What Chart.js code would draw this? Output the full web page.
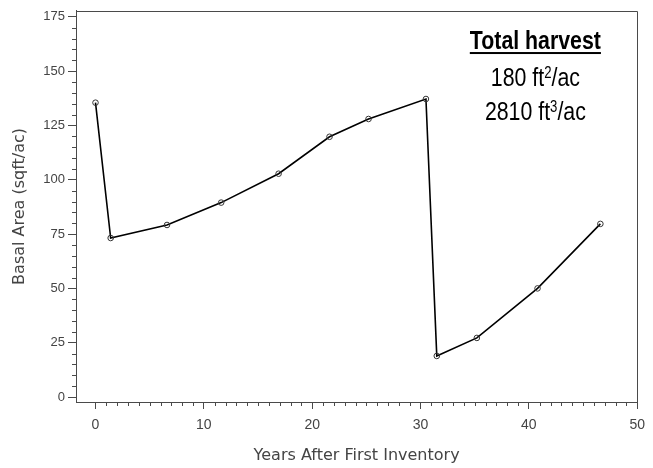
<!DOCTYPE html>
<html>
<head>
<meta charset="utf-8">
<script src="https://cdn.jsdelivr.net/npm/chart.js@4/dist/chart.umd.min.js"></script>
<style>
  html, body { margin: 0; padding: 0; background: #fff; }
  #wrap { width: 653px; height: 468px; }
</style>
</head>
<body>
<div id="wrap"><canvas id="c" width="653" height="468"></canvas></div>
<script>
// ---- Data ----
const years = [0, 1.4, 6.6, 11.6, 16.9, 21.6, 25.2, 30.5, 31.5, 35.2, 40.8, 46.6];
const basalArea = [135.5, 73.2, 79.2, 89.5, 102.8, 119.8, 128.0, 137.2, 18.9, 27.2, 50.0, 79.7];
const xTickValues = [0, 10, 20, 30, 40, 50];
const yTickValues = [0, 25, 50, 75, 100, 125, 150, 175];
const xTitle = 'Years After First Inventory';
const yTitle = 'Basal Area (sqft/ac)';
const noteTitle = 'Total harvest';
const noteLines = [
  { value: '180 ft', sup: '2', unit: '/ac' },
  { value: '2810 ft', sup: '3', unit: '/ac' }
];

const points = years.map((x, i) => ({ x: x, y: basalArea[i] }));

const AXIS_COLOR = '#4a4a4a';
const TEXT_COLOR = '#444';
const FONT = "'Liberation Sans', Arial, sans-serif";
const TITLE_FONT = "'DejaVu Sans', 'Liberation Sans', sans-serif";

// Frame, minor ticks and the text annotation
const extrasPlugin = {
  id: 'extras',
  afterDraw(chart) {
    const { ctx, chartArea: a, scales: { x, y } } = chart;
    ctx.save();
    // box frame (top / right)
    ctx.strokeStyle = AXIS_COLOR;
    ctx.lineWidth = 1;
    ctx.beginPath();
    ctx.moveTo(Math.round(a.left) + 0.5, Math.round(a.top) + 0.5);
    ctx.lineTo(Math.round(a.right) + 0.5, Math.round(a.top) + 0.5);
    ctx.lineTo(Math.round(a.right) + 0.5, Math.round(a.bottom) + 0.5);
    ctx.stroke();
    // minor ticks on x (every 1 year)
    ctx.beginPath();
    for (let v = 1; v < 50; v++) {
      if (v % 10 === 0) continue;
      const px = Math.round(x.getPixelForValue(v)) + 0.5;
      ctx.moveTo(px, a.bottom);
      ctx.lineTo(px, a.bottom + 4);
    }
    // minor ticks on y (every 5)
    for (let v = 5; v < 177; v += 5) {
      if (v % 25 === 0) continue;
      const py = Math.round(y.getPixelForValue(v)) + 0.5;
      ctx.moveTo(a.left, py);
      ctx.lineTo(a.left - 4, py);
    }
    ctx.stroke();

    // annotation text (Arial-Narrow-like: condensed Liberation Sans)
    const cx = x.getPixelForValue(40.6);
    const condense = 0.82;
    const drawCondensed = (parts, baseline) => {
      let total = 0;
      parts.forEach(p => { ctx.font = p.font; p.w = ctx.measureText(p.text).width * condense; total += p.w; });
      let sx = cx - total / 2;
      parts.forEach(p => {
        ctx.save();
        ctx.translate(sx, baseline + (p.dy || 0));
        ctx.scale(condense, 1);
        ctx.font = p.font;
        ctx.textAlign = 'left';
        ctx.textBaseline = 'alphabetic';
        ctx.fillStyle = '#000';
        ctx.fillText(p.text, 0, 0);
        ctx.restore();
        sx += p.w;
      });
      return total;
    };
    const bigBold = "bold 26px " + FONT;
    const big = "26px " + FONT;
    const small = "16px " + FONT;
    const t1 = y.getPixelForValue(160.2);
    const w = drawCondensed([{ text: noteTitle, font: bigBold }], t1);
    ctx.fillStyle = '#000';
    ctx.fillRect(cx - w / 2, t1 + 3, w, 2);
    const lineVals = [143.2, 127.5];
    noteLines.forEach((ln, i) => {
      const b = y.getPixelForValue(lineVals[i]);
      drawCondensed([
        { text: ln.value, font: big },
        { text: ln.sup, font: small, dy: -8 },
        { text: ln.unit, font: big }
      ], b);
    });
    ctx.restore();
  }
};

new Chart(document.getElementById('c'), {
  type: 'line',
  data: {
    datasets: [{
      data: points,
      borderColor: '#000',
      borderWidth: 1.6,
      pointStyle: 'circle',
      pointRadius: 2.8,
      pointBorderWidth: 1,
      pointBorderColor: '#333',
      pointBackgroundColor: 'rgba(0,0,0,0)',
      tension: 0,
      fill: false
    }]
  },
  options: {
    responsive: false,
    animation: false,
    events: [],
    layout: { padding: { left: 0, right: 15, top: 7, bottom: 0 } },
    plugins: { legend: { display: false }, tooltip: { enabled: false } },
    scales: {
      x: {
        type: 'linear',
        min: -1.8,
        max: 50,
        afterBuildTicks(scale) { scale.ticks = xTickValues.map(v => ({ value: v })); },
        afterFit(scale) { scale.height = 66; },
        ticks: {
          includeBounds: false,
          color: TEXT_COLOR,
          font: { family: FONT, size: 14 },
          padding: 8,
          maxRotation: 0,
          autoSkip: false
        },
        grid: { drawOnChartArea: false, drawTicks: true, tickLength: 7, tickColor: AXIS_COLOR },
        border: { display: true, color: AXIS_COLOR, width: 1 },
        title: {
          display: true,
          text: xTitle,
          color: TEXT_COLOR,
          font: { family: TITLE_FONT, size: 16 },
          padding: { top: 0, bottom: 3 }
        }
      },
      y: {
        type: 'linear',
        min: -2.3,
        max: 177.8,
        afterBuildTicks(scale) { scale.ticks = yTickValues.map(v => ({ value: v })); },
        afterFit(scale) { scale.width = 76; },
        ticks: {
          includeBounds: false,
          color: TEXT_COLOR,
          font: { family: FONT, size: 13 },
          padding: 3,
          autoSkip: false
        },
        grid: { drawOnChartArea: false, drawTicks: true, tickLength: 8, tickColor: AXIS_COLOR },
        border: { display: true, color: AXIS_COLOR, width: 1 },
        title: {
          display: true,
          text: yTitle,
          color: TEXT_COLOR,
          font: { family: TITLE_FONT, size: 16 },
          padding: { top: 10, bottom: 0 }
        }
      }
    }
  },
  plugins: [extrasPlugin]
});
</script>
</body>
</html>
